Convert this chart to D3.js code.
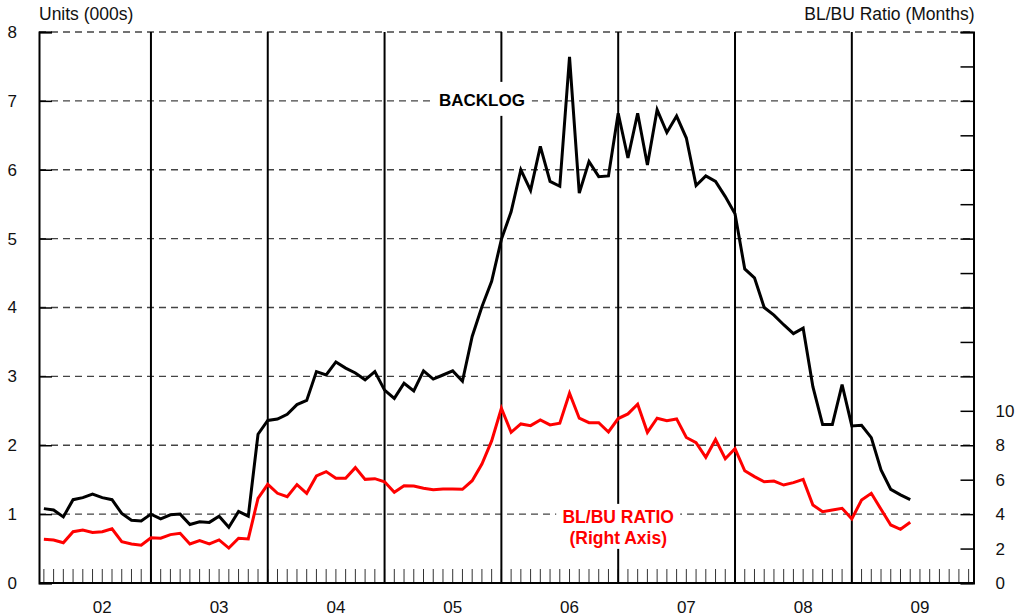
<!DOCTYPE html>
<style>
body { margin: 0; background: #fff; }
svg { font-family: "Liberation Sans", Arial, sans-serif; }
</style>
<svg width="1018" height="616"></svg>
<script src="https://cdn.jsdelivr.net/npm/d3@7/dist/d3.min.js"></script>
<script>

// monthly, Jan 2002 .. Jun 2009
var years = ["02", "03", "04", "05", "06", "07", "08", "09"];

var backlog = [
  1.08, 1.06, 0.96, 1.21, 1.24, 1.29, 1.24, 1.21, 1.01, 0.91, 0.90, 1.00,
  0.93, 0.99, 1.00, 0.85, 0.89, 0.88, 0.97, 0.81, 1.04, 0.97, 2.16, 2.36,
  2.38, 2.45, 2.59, 2.65, 3.07, 3.02, 3.21, 3.12, 3.05, 2.95, 3.07, 2.80,
  2.68, 2.90, 2.79, 3.08, 2.96, 3.02, 3.08, 2.93, 3.58, 4.01, 4.38, 4.99,
  5.39, 6.00, 5.70, 6.34, 5.83, 5.76, 7.64, 5.66, 6.12, 5.90, 5.91, 6.82,
  6.17, 6.82, 6.07, 6.87, 6.54, 6.78, 6.46, 5.77, 5.91, 5.83, 5.61, 5.36,
  4.56, 4.43, 4.00, 3.89, 3.75, 3.62, 3.70, 2.85, 2.30, 2.30, 2.88, 2.28,
  2.29, 2.11, 1.64, 1.36, 1.28, 1.21
];

var ratio = [
  2.54, 2.50, 2.34, 2.98, 3.08, 2.94, 2.98, 3.15, 2.40, 2.27, 2.19, 2.63,
  2.60, 2.81, 2.89, 2.27, 2.46, 2.27, 2.50, 2.03, 2.60, 2.56, 4.92, 5.73,
  5.21, 5.01, 5.71, 5.21, 6.22, 6.47, 6.08, 6.08, 6.70, 6.02, 6.06, 5.88,
  5.27, 5.65, 5.63, 5.50, 5.42, 5.46, 5.46, 5.44, 5.94, 6.91, 8.25, 10.15,
  8.75, 9.24, 9.14, 9.47, 9.18, 9.28, 11.02, 9.57, 9.31, 9.31, 8.77, 9.55,
  9.82, 10.38, 8.75, 9.57, 9.43, 9.53, 8.45, 8.15, 7.30, 8.33, 7.22, 7.80,
  6.52, 6.18, 5.88, 5.92, 5.69, 5.83, 6.02, 4.53, 4.14, 4.24, 4.34, 3.72,
  4.82, 5.21, 4.28, 3.37, 3.12, 3.53
];

var leftTicks = [1, 2, 3, 4, 5, 6, 7, 8];
var rightLabels = [0, 2, 4, 6, 8, 10];

var svg = d3.select("svg");

var x = d3.scaleLinear().domain([-0.5, 95.5]).range([39, 973.5]);
var y = d3.scaleLinear().domain([0, 8]).range([583, 32]);
var y2 = d3.scaleLinear().domain([0, 32]).range([583, 32]);

// dashed gridlines
svg.append("g").selectAll("line")
    .data(leftTicks)
  .enter().append("line")
    .attr("x1", x(-0.5)).attr("x2", x(95.5))
    .attr("y1", function(d) { return y(d); })
    .attr("y2", function(d) { return y(d); })
    .attr("stroke", "#444")
    .attr("stroke-width", 1.3)
    .attr("stroke-dasharray", "7,5");

// month ticks
svg.append("g").selectAll("line")
    .data(d3.range(0, 96))
  .enter().append("line")
    .attr("x1", function(d) { return x(d); })
    .attr("x2", function(d) { return x(d); })
    .attr("y1", 583).attr("y2", 569)
    .attr("stroke", "#333")
    .attr("stroke-width", 1);

// year separators (December of each year)
svg.append("g").selectAll("line")
    .data(d3.range(0, 7))
  .enter().append("line")
    .attr("x1", function(d) { return x(11 + 12 * d); })
    .attr("x2", function(d) { return x(11 + 12 * d); })
    .attr("y1", y(8)).attr("y2", y(0))
    .attr("stroke", "#000")
    .attr("stroke-width", 2);

// white boxes behind the labels
svg.append("rect")
    .attr("x", x(45) - 50).attr("y", y(7) - 19)
    .attr("width", 100).attr("height", 34)
    .attr("fill", "#fff");
svg.append("rect")
    .attr("x", x(59) - 62).attr("y", y(0.96) - 13)
    .attr("width", 124).attr("height", 45)
    .attr("fill", "#fff");

var line = d3.line()
    .x(function(d, i) { return x(i); })
    .y(function(d) { return y(d); });
var line2 = d3.line()
    .x(function(d, i) { return x(i); })
    .y(function(d) { return y2(d); });

svg.append("path")
    .datum(ratio)
    .attr("d", line2)
    .attr("fill", "none")
    .attr("stroke", "#ff0000")
    .attr("stroke-width", 3)
    .attr("stroke-linejoin", "miter");

svg.append("path")
    .datum(backlog)
    .attr("d", line)
    .attr("fill", "none")
    .attr("stroke", "#000")
    .attr("stroke-width", 3)
    .attr("stroke-linejoin", "miter");

// axes
var gl = svg.append("g")
    .attr("transform", "translate(" + x(-0.5) + ",0)")
    .call(d3.axisLeft(y).tickValues([0].concat(leftTicks)).tickSize(-13).tickPadding(22).tickFormat(d3.format("d")));
var gr = svg.append("g")
    .attr("transform", "translate(" + x(95.5) + ",0)")
    .call(d3.axisRight(y2).tickValues(d3.range(0, 34, 2)).tickSize(-13).tickPadding(22)
      .tickFormat(function(d) { return rightLabels.indexOf(d) >= 0 ? d : ""; }));
svg.append("line")
    .attr("x1", x(-0.5)).attr("x2", x(95.5))
    .attr("y1", y(0)).attr("y2", y(0))
    .attr("stroke", "#000").attr("stroke-width", 2);

[gl, gr].forEach(function(g) {
  g.select(".domain").attr("stroke", "#000").attr("stroke-width", 2);
  g.selectAll(".tick line").attr("stroke", "#000").attr("stroke-width", 1.5);
  g.selectAll(".tick text").attr("font-size", 17).attr("fill", "#111")
      .attr("font-family", "Liberation Sans, Arial, sans-serif");
});

// year labels
svg.append("g").selectAll("text")
    .data(years)
  .enter().append("text")
    .attr("x", function(d, i) { return x(6 + 12 * i); })
    .attr("y", 613)
    .attr("text-anchor", "middle")
    .attr("font-size", 17)
    .attr("fill", "#111")
    .text(function(d) { return d; });

svg.append("text")
    .attr("x", x(-0.5)).attr("y", 20)
    .attr("font-size", 17.5).attr("fill", "#111")
    .text("Units (000s)");
svg.append("text")
    .attr("x", x(95.5) + 1).attr("y", 20)
    .attr("text-anchor", "end")
    .attr("font-size", 17.5).attr("fill", "#111")
    .text("BL/BU Ratio (Months)");

svg.append("text")
    .attr("x", x(45)).attr("y", y(7) + 5)
    .attr("text-anchor", "middle")
    .attr("font-size", 17).attr("font-weight", "bold")
    .text("BACKLOG");

svg.append("text")
    .attr("x", x(59)).attr("y", y(0.96) + 6)
    .attr("text-anchor", "middle")
    .attr("font-size", 17.5).attr("font-weight", "bold")
    .attr("fill", "#ff0000")
    .text("BL/BU RATIO");
svg.append("text")
    .attr("x", x(59)).attr("y", y(0.96) + 27)
    .attr("text-anchor", "middle")
    .attr("font-size", 17.5).attr("font-weight", "bold")
    .attr("fill", "#ff0000")
    .text("(Right Axis)");

</script>
